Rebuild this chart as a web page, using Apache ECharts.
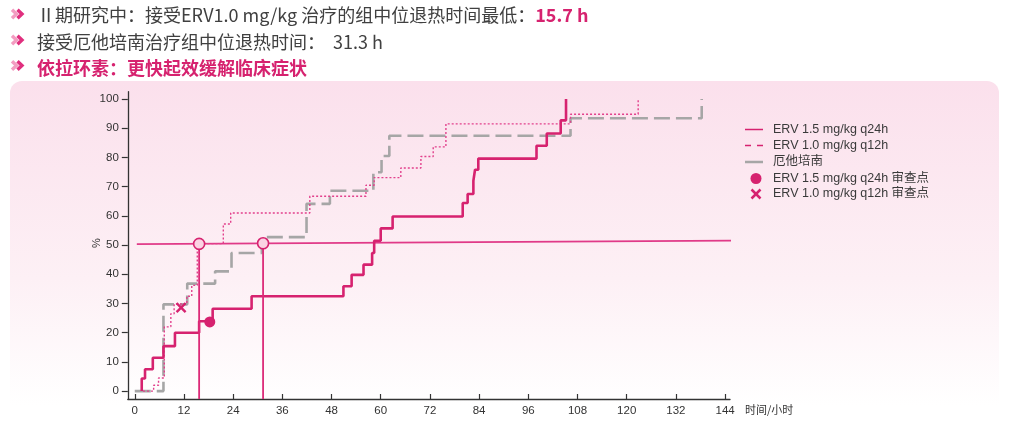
<!DOCTYPE html>
<html><head><meta charset="utf-8">
<script src="https://cdn.jsdelivr.net/npm/echarts@6/dist/echarts.min.js"></script>
<style>html,body{margin:0;padding:0;background:#fff}#c{width:1011px;height:422px}</style>
</head><body><div id="c"></div>
<script>
// ---- data ----
var xTicks = [0, 12, 24, 36, 48, 60, 72, 84, 96, 108, 120, 132, 144];
var yTicks = [0, 10, 20, 30, 40, 50, 60, 70, 80, 90, 100];
var erv15 = [[1.7,0],[1.7,4.3],[2.5,7.5],[4.4,11.4],[7.0,15.4],[9.8,20.0],[15.7,23.9],[19.0,28.2],[28.5,32.5],[50.9,35.9],[52.9,39.8],[55.8,43.3],[57.9,47.3],[58.4,51.5],[60.0,55.7],[62.9,59.8],[80.0,64.4],[81.2,67.5],[82.6,72.0],[83.0,75.8],[83.8,79.6],[98.0,84.0],[100.5,88.2],[103.9,92.7],[105.2,100]];
var erv10 = [[2.0,0],[4.6,2.0],[5.8,4.5],[7.2,22.0],[8.8,26.5],[9.6,29.8],[12.7,32.5],[13.9,36.2],[15.25,50.5],[21.6,57.2],[23.4,61.0],[42.7,66.7],[56.4,70.5],[58.4,73.1],[64.9,76.4],[69.8,80.3],[72.8,83.6],[75.9,91.5],[106.3,94.8],[122.8,100]];
var ertapenem = [[0,0],[7.0,29.7],[12.8,36.8],[19.6,41.0],[23.6,47.3],[31.0,52.7],[41.9,64.1],[47.6,68.6],[58.2,74.9],[60.2,80.5],[62.1,87.4],[106.3,93.4],[138.3,100]];
var medianLine = [[0.5,50.3],[145.5,51.5]];
var medianTimes = [15.7, 31.3];
var medianLevel = [50.4, 50.6];
var censor15 = [[18.3,23.7]];
var censor10 = [[11.3,28.6]];
var legendNames = ['ERV 1.5 mg/kg q24h','ERV 1.0 mg/kg q12h','厄他培南','ERV 1.5 mg/kg q24h 审查点','ERV 1.0 mg/kg q12h 审查点'];
var titleLine1 = 'Ⅱ期研究中：接受ERV1.0 mg/kg 治疗的组中位退热时间最低：';
var titleLine1Value = '15.7 h';
var titleLine2 = '接受厄他培南治疗组中位退热时间：  31.3 h';
var titleLine3 = '依拉环素：更快起效缓解临床症状';

var MAG = '#d6226f';
var yMin = -2.7;
var FONT = '"Liberation Sans", Arial, "Noto Sans CJK SC", sans-serif';
var CJK = '"Noto Sans CJK SC", "Noto Sans", sans-serif';
var TFS = 18;

var chart = echarts.init(document.getElementById('c'), null, {renderer:'canvas'});

function chevron(cy){
  return [
    {type:'polyline', shape:{points:[[12,cy-4.3],[16.5,cy],[12,cy+4.3]]}, style:{stroke:'#f39cc1', lineWidth:3.4, fill:null}},
    {type:'polyline', shape:{points:[[17.5,cy-4.3],[22,cy],[17.5,cy+4.3]]}, style:{stroke:'#e02f7e', lineWidth:3.4, fill:null}}
  ];
}

var legendY = [129.5, 145.5, 162, 178.5, 194];
var lx0 = 745, lx1 = 763, ltx = 773;
var graphics = [
  {type:'rect', z:-10, shape:{x:10, y:81, width:989, height:360, r:12},
   style:{fill:new echarts.graphic.LinearGradient(0,0,0,1,[{offset:0,color:'#fbe0ec'},{offset:0.55,color:'#fdf0f5'},{offset:0.9,color:'#ffffff'}])}},
  {type:'text', x:37, y:15, style:{text:'{a|'+titleLine1+'}{b|'+titleLine1Value+'}', verticalAlign:'middle',
     rich:{a:{fontSize:TFS, fontFamily:CJK, fill:'#404040'}, b:{fontSize:TFS, fontFamily:CJK, fontWeight:'bold', fill:MAG}}}},
  {type:'text', x:37, y:42, style:{text:titleLine2, fontSize:TFS, fontFamily:CJK, fill:'#404040', verticalAlign:'middle'}},
  {type:'text', x:37, y:68, style:{text:titleLine3, fontSize:TFS, fontFamily:CJK, fontWeight:'bold', fill:MAG, verticalAlign:'middle'}},
  {type:'text', x:745, y:410, style:{text:'时间/小时', fontSize:11, fontFamily:CJK, fill:'#333', verticalAlign:'middle'}},
  {type:'text', x:97, y:243, rotation:Math.PI/2, style:{text:'%', fontSize:11, fontFamily:FONT, fill:'#333', align:'center', verticalAlign:'middle'}},
  // legend
  {type:'line', shape:{x1:lx0,y1:legendY[0],x2:lx1,y2:legendY[0]}, style:{stroke:MAG, lineWidth:1.5}},
  {type:'line', shape:{x1:lx0,y1:legendY[1],x2:lx1,y2:legendY[1]}, style:{stroke:MAG, lineWidth:1.5, lineDash:[6,6]}},
  {type:'line', shape:{x1:lx0,y1:legendY[2],x2:lx1,y2:legendY[2]}, style:{stroke:'#a6a6a6', lineWidth:2.5}},
  {type:'circle', shape:{cx:756, cy:legendY[3], r:5.5}, style:{fill:MAG}},
  {type:'line', shape:{x1:751.5,y1:legendY[4]-4.5,x2:760.5,y2:legendY[4]+4.5}, style:{stroke:MAG, lineWidth:2.5}},
  {type:'line', shape:{x1:760.5,y1:legendY[4]-4.5,x2:751.5,y2:legendY[4]+4.5}, style:{stroke:MAG, lineWidth:2.5}}
];
legendNames.forEach(function(n,i){
  graphics.push({type:'text', x:ltx, y:legendY[i], style:{text:n, fontSize:12.5, fontFamily:FONT, fill:'#3a3a3a', verticalAlign:'middle'}});
});
graphics = graphics.concat(chevron(14), chevron(40), chevron(65.5));

var series = [
  {type:'line', name:'median', data:medianLine, symbol:'none', lineStyle:{color:'#e03a88', width:1.8}, z:2, silent:true},
  {type:'line', name:legendNames[2], data:ertapenem, step:'end', symbol:'none', lineStyle:{color:'#a6a6a6', width:2.6, type:[16,6]}, z:3},
  {type:'line', name:legendNames[1], data:erv10, step:'end', symbol:'none', lineStyle:{color:'#e2408c', width:1.4, type:[2,2]}, z:4},
  {type:'line', name:legendNames[0], data:erv15, step:'end', symbol:'none', lineStyle:{color:MAG, width:2.6}, z:5}
];
medianTimes.forEach(function(t,i){
  series.push({type:'line', data:[[t,medianLevel[i]],[t,yMin]], symbol:'none', lineStyle:{color:'#dc2a78', width:1.8}, z:6, silent:true});
});
series.push({type:'scatter', data:medianTimes.map(function(t,i){return [t,medianLevel[i]];}), symbol:'circle', symbolSize:11,
  itemStyle:{color:'#fbd3e4', borderColor:MAG, borderWidth:1.6, opacity:1}, z:8});
series.push({type:'scatter', name:legendNames[3], data:censor15, symbol:'circle', symbolSize:11, itemStyle:{color:MAG, opacity:1}, z:8});
series.push({type:'scatter', name:legendNames[4], data:censor10, symbol:'path://M0,0L10,10M10,0L0,10', symbolSize:9,
  itemStyle:{color:'rgba(0,0,0,0)', borderColor:MAG, borderWidth:2.4, opacity:1}, z:8});

chart.setOption({
  animation:false,
  backgroundColor:'#ffffff',
  graphic:{elements:graphics},
  grid:{left:127.8, top:91.7, width:602.2, height:307.3, containLabel:false},
  xAxis:{type:'value', min:-1.7, max:145.2,
    axisLine:{show:true, onZero:false, lineStyle:{color:'#333', width:1.3}},
    axisTick:{show:true, inside:true, length:5, customValues:xTicks, lineStyle:{color:'#333', width:1.2}},
    axisLabel:{show:true, customValues:xTicks, fontSize:11.5, color:'#333', margin:6, fontFamily:FONT},
    splitLine:{show:false}},
  yAxis:{type:'value', min:yMin, max:102.5,
    axisLine:{show:true, onZero:false, lineStyle:{color:'#333', width:1.3}},
    axisTick:{show:true, inside:false, length:6, customValues:yTicks, lineStyle:{color:'#333', width:1.2}},
    axisLabel:{show:true, customValues:yTicks, fontSize:11.5, color:'#333', margin:9, fontFamily:FONT},
    splitLine:{show:false}},
  series:series
});
</script></body></html>
